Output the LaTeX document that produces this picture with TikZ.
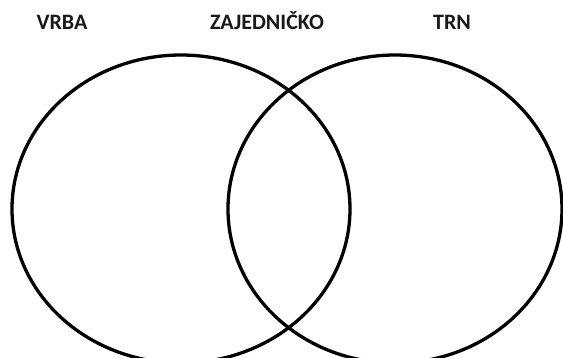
\documentclass[tikz,border=0pt]{standalone}
\usepackage{fontspec}
\setmainfont{Carlito}
\begin{document}
\begin{tikzpicture}[x=1pt,y=-1pt,
  setring/.style={draw=black,line width=3.3pt},
  setlabel/.style={font=\fontsize{22}{26}\selectfont\bfseries,text=black!90,anchor=base,inner sep=0pt}]
\useasboundingbox (0,0) rectangle (563,357);
\begin{scope}
\clip (0,0) rectangle (563,357);
\draw[setring] (181,209) ellipse[x radius=169, y radius=154];
\draw[setring] (395,209) ellipse[x radius=167, y radius=154];
\end{scope}
\node[setlabel] (vrba) at (62,29.5) {VRBA};
\node[setlabel] (zaj) at (267,29.5) {ZAJEDNIČKO};
\node[setlabel] (trn) at (452,29.5) {TRN};
\end{tikzpicture}
\end{document}
